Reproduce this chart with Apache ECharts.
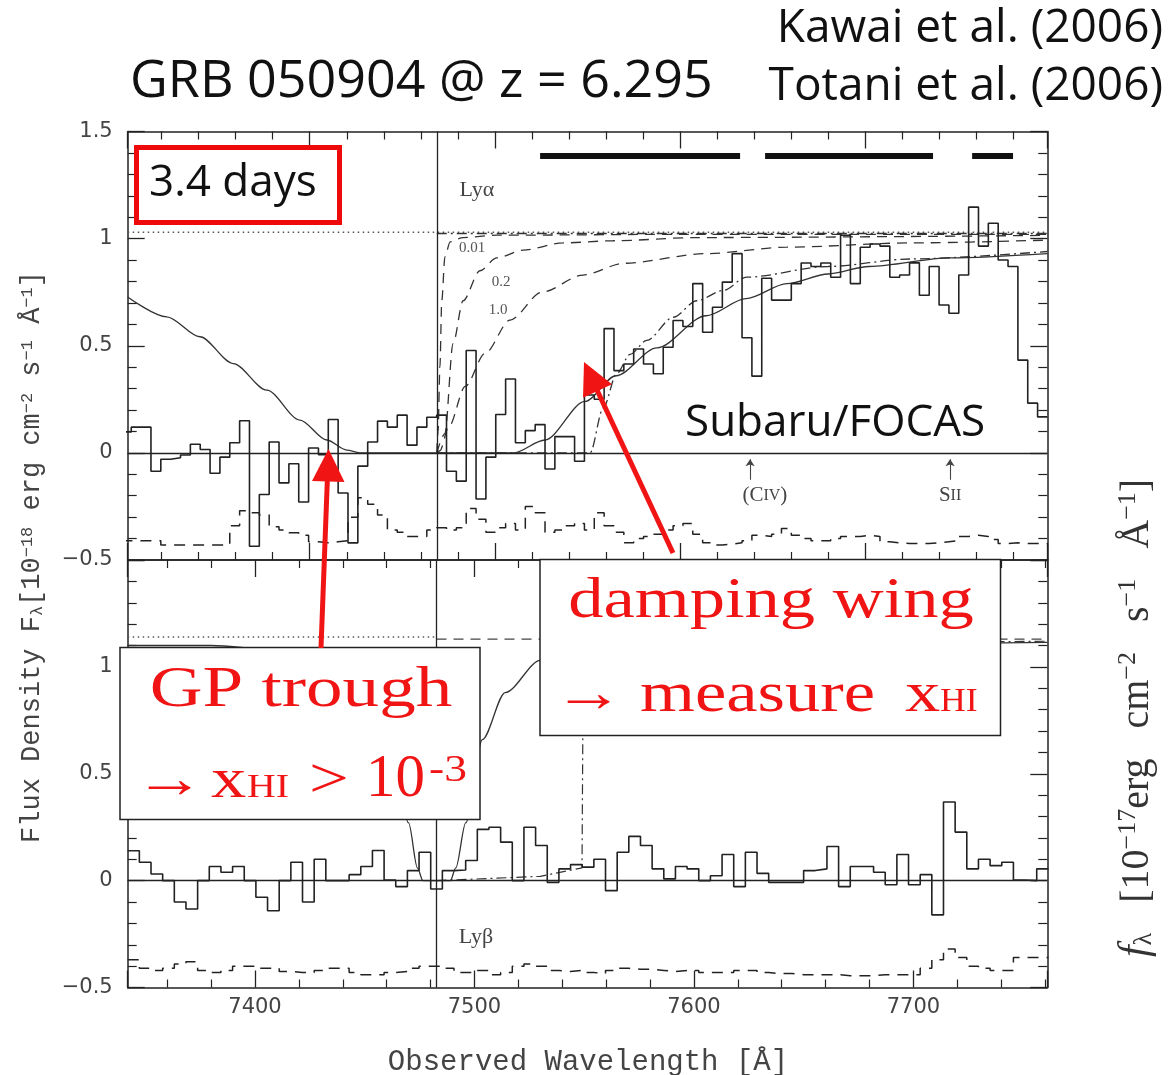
<!DOCTYPE html>
<html><head><meta charset="utf-8">
<script src="https://cdn.jsdelivr.net/npm/echarts@6/dist/echarts.min.js"></script>
<style>html,body{margin:0;padding:0;background:#fff}#c{width:1171px;height:1075px}</style>
</head><body><div id="c"></div>
<script>
// ---------------- DATA ----------------
const waveTickLabels = ['7400', '7500', '7600', '7700'];
const fluxTickLabels = ['−0.5', '0', '0.5', '1', '1.5'];
const lyaRange = [8701.7, 9198.3];   // upper panel: observed wavelength of Ly-alpha
const lybRange = [7342, 7761];       // lower panel: observed wavelength of Ly-beta
const lyaEdge = 8868.6;
const lybEdge = 7482.7;

// upper panel binned spectrum (bins of 5.32 A starting at topStart)
const topStart = 8698.3, topBin = 5.32;
const topFlux = [
  0.098, 0.12, 0.12, -0.086, -0.03, -0.023, -0.01, 0.04, 0.016, -0.095, -0.02,
  0.047, 0.15, -0.436, -0.194, 0.051, -0.14, -0.051, -0.229, 0.023, -0.008,
  0.156, -0.187, -0.42, -0.062, 0.051, 0.148, 0.12, 0.176, 0.036, 0.12,
  0.166, 0.176, -0.086, -0.132, 0.478, -0.215, -0.02, 0.179, 0.345, 0.047,
  0.104, 0.132, -0.075, 0.076, 0.076, -0.039, 0.27, 0.25, 0.58, 0.384,
  0.415, 0.485, 0.415, 0.369, 0.493, 0.618, 0.59, 0.79, 0.563, 0.68,
  0.797, 0.93, 0.537, 0.358, 0.815, 0.713, 0.713, 0.79, 0.886, 0.87,
  0.886, 0.82, 1.016, 0.79, 0.96, 0.975, 0.965, 0.82, 0.83, 0.887,
  0.736, 0.87, 0.69, 0.652, 0.83, 1.147, 0.965, 1.072, 0.9, 0.87,
  0.433, 0.232, 0.168
];
const topNoise = [
  -0.41, -0.41, -0.41, -0.41, -0.43, -0.43, -0.43, -0.43, -0.43, -0.43, -0.43,
  -0.34, -0.27, -0.28, -0.29, -0.345, -0.36, -0.373, -0.384, -0.415, -0.42,
  -0.415, -0.41, -0.30, -0.21, -0.24, -0.29, -0.36, -0.37, -0.39, -0.39,
  -0.36, -0.35, -0.36, -0.35, -0.26, -0.31, -0.37, -0.35, -0.33, -0.36,
  -0.25, -0.28, -0.37, -0.36, -0.34, -0.33, -0.36, -0.28, -0.34, -0.37,
  -0.42, -0.40, -0.39, -0.38, -0.36, -0.34, -0.33, -0.38, -0.42, -0.43,
  -0.426, -0.42, -0.41, -0.384, -0.39, -0.38, -0.353, -0.384, -0.40, -0.41,
  -0.41, -0.40, -0.39, -0.39, -0.384, -0.39, -0.415, -0.42, -0.423, -0.423,
  -0.423, -0.42, -0.415, -0.41, -0.39, -0.384, -0.39, -0.404, -0.423, -0.42,
  -0.423, -0.423, -0.423
];
// upper panel model curves [wavelength, flux]
const topModelSolid = [[8701.7,0.728],[8722.8,0.635],[8740.7,0.542],[8758.7,0.417],[8776.8,0.293],[8794.7,0.153],[8809.2,0.06],[8820,0.013],[8827,0],[8910,0],[8927,0.06],[8948.6,0.24],[8965.4,0.36],[8987.5,0.49],[9014,0.64],[9035.6,0.72],[9057.7,0.79],[9079.9,0.835],[9102,0.87],[9145.8,0.91],[9198.3,0.93]];
const topModel001 = [[8868.6,0],[8869.3,0.1],[8870.3,0.40],[8871.3,0.71],[8873,0.915],[8875.8,0.985],[8882.8,1.005],[8901,1.016],[9000,1.02],[9198.3,1.02]];
const topModel02 = [[8868.6,0],[8873,0.09],[8877.4,0.51],[8882.8,0.71],[8891.9,0.85],[8901,0.91],[8915.2,0.946],[8936.8,0.98],[8963.8,0.99],[9009,1.005],[9198.3,1.015]];
const topModel10 = [[8868.6,0],[8870.3,0.01],[8875,0.12],[8884,0.31],[8894.7,0.465],[8908.2,0.62],[8925.4,0.75],[8947.6,0.83],[8969.7,0.885],[9014,0.93],[9057.7,0.96],[9124.1,0.98],[9198.3,0.993]];
const topDashDotFlat = [[8868.6,1.024],[9198.3,1.024]];
const topDashDotRise = [[8868.6,0],[8951.4,0],[8958.5,0.21],[8965.8,0.37],[8973,0.46],[8982,0.525],[8996.3,0.633],[9009,0.71],[9023.3,0.758],[9035.9,0.82],[9079.9,0.87],[9124.1,0.905],[9198.3,0.94]];
const topContinuum = [[8701.7,1.03],[9198.3,1.03]];
const topBars = [[8924.4,9032.4],[9045.9,9136.6],[9157.7,9179.8]];
const topBarLevel = 1.385;
const lineMarks = [['(CIV)', 9037.8], ['SII', 9145.8]];

// lower panel binned spectrum (bins of 5.31 A starting at botStart)
const botStart = 7342, botBin = 5.31;
const botFlux = [
  0.14, 0.086, 0.031, 0, -0.10, -0.133, 0, 0.066, 0.039, 0.066,
  0, -0.078, -0.141, 0, 0.086, -0.10, 0.10, 0, 0, 0.028,
  0.066, 0.141, 0.003, -0.028, 0.047, 0.133, -0.039, 0.047, 0.05, 0.094,
  0.24, 0.25, 0.18, 0, 0.25, 0.164, -0.008, 0.055, 0.075, 0.063,
  0.10, -0.047, 0.133, 0.207, 0.164, 0.055, 0.008, 0.066, 0.055, 0,
  0.023, 0.122, -0.028, 0.133, 0.034, -0.008, -0.008, -0.008, 0.047, 0.055,
  0.16, -0.028, 0.066, 0.066, 0.039, -0.019, 0.122, -0.019, 0.028, -0.16,
  0.368, 0.227, 0.055, 0.10, 0.07, 0.086, 0.003, 0, 0.055
];
const botNoise = [
  -0.37, -0.41, -0.42, -0.41, -0.39, -0.38, -0.42, -0.43, -0.42, -0.40,
  -0.40, -0.41, -0.41, -0.425, -0.43, -0.43, -0.42, -0.41, -0.41, -0.43,
  -0.44, -0.44, -0.43, -0.425, -0.41, -0.40, -0.40, -0.41, -0.43, -0.43,
  -0.42, -0.44, -0.43, -0.40, -0.39, -0.40, -0.42, -0.425, -0.42, -0.43,
  -0.435, -0.42, -0.41, -0.415, -0.415, -0.42, -0.425, -0.42, -0.42, -0.43,
  -0.43, -0.43, -0.42, -0.42, -0.43, -0.435, -0.435, -0.44, -0.44, -0.44,
  -0.44, -0.445, -0.445, -0.445, -0.44, -0.44, -0.44, -0.44, -0.41, -0.37,
  -0.32, -0.36, -0.40, -0.41, -0.42, -0.42, -0.36, -0.36, -0.36
];
const botModelSolid = [[7342,1.10],[7380,1.10],[7410,1.08],[7425,1.06],[7436,1.03],[7451,0.88],[7462,0.66],[7470,0.27],[7474,0.06],[7476.5,0],[7489,0],[7491.5,0.06],[7496,0.27],[7503.6,0.66],[7514,0.88],[7530,1.03],[7550,1.08],[7600,1.10],[7761,1.115]];
const botContinuum = [[7342,1.14],[7482.7,1.14]];
const botModelDashed = [[7482.7,1.13],[7761,1.13]];
const botModelDashDot = [[7482.7,0],[7530,0.02],[7549,0.06],[7549.6,1.10],[7761,1.12]];

// ---------------- CHART ----------------
const INK = '#222';
function stepData(start, width, vals) {
  const d = vals.map((v, i) => [+(start + i * width).toFixed(3), v]);
  d.push([+(start + vals.length * width).toFixed(3), vals[vals.length - 1]]);
  return d;
}
function xAx(grid, pos, range, labels) {
  return {
    type: 'value', gridIndex: grid, position: pos, min: range[0], max: range[1], splitNumber: 5,
    axisLine: { show: true, onZero: false, lineStyle: { color: INK, width: 1.5 } },
    axisTick: { show: true, inside: true, length: 17, lineStyle: { color: INK, width: 1.3 } },
    minorTick: { show: true, splitNumber: 5, length: 8, lineStyle: { color: INK, width: 1.2 } },
    axisLabel: { show: labels, showMinLabel: false, showMaxLabel: false, margin: 10, color: '#444',
      fontFamily: 'DejaVu Sans', fontSize: 21,
      formatter: v => waveTickLabels.includes(String(v)) ? String(v) : '' },
    splitLine: { show: false }, minorSplitLine: { show: false }
  };
}
function yAx(grid, pos, labels, showMax) {
  return {
    type: 'value', gridIndex: grid, position: pos, min: -0.5, max: 1.5, interval: 0.5,
    axisLine: { show: true, onZero: false, lineStyle: { color: INK, width: 1.5 } },
    axisTick: { show: true, inside: true, length: 17, lineStyle: { color: INK, width: 1.3 } },
    minorTick: { show: true, splitNumber: 5, length: 9, lineStyle: { color: INK, width: 1.2 } },
    axisLabel: { show: labels, showMaxLabel: showMax, margin: 15, color: '#444',
      fontFamily: 'DejaVu Sans', fontSize: 21,
      formatter: v => fluxTickLabels[Math.round((v + 0.5) / 0.5)] },
    splitLine: { show: false }, minorSplitLine: { show: false }
  };
}
function ln(xi, yi, data, opt) {
  return Object.assign({
    type: 'line', xAxisIndex: xi, yAxisIndex: yi, data: data, showSymbol: false, symbol: 'none',
    silent: true, animation: false, z: 3,
    lineStyle: { color: INK, width: 1.3, type: 'solid' }
  }, opt || {});
}
const vMark = (xv) => ({
  silent: true, symbol: 'none', label: { show: false }, animation: false,
  lineStyle: { color: INK, width: 1.3, type: 'solid' },
  data: [{ xAxis: xv }, { yAxis: 0 }]
});
const DASH = [10, 7], NDASH = [11, 8], DOT = [1.5, 3.5], DASHDOT = [10, 4, 2, 4];

const series = [
  // upper panel
  ln(0, 0, stepData(topStart, topBin, topFlux), { step: 'end', z: 5, lineStyle: { color: INK, width: 1.6 }, markLine: vMark(lyaEdge) }),
  ln(0, 0, stepData(topStart, topBin, topNoise), { step: 'end', lineStyle: { color: INK, width: 1.5, type: NDASH } }),
  ln(0, 0, topModelSolid, { smooth: 0.3, smoothMonotone: 'x', lineStyle: { color: '#333', width: 1.3 } }),
  ln(0, 0, topContinuum, { lineStyle: { color: '#555', width: 1.6, type: DOT } }),
  ln(0, 0, topModel001, { smooth: 0.3, smoothMonotone: 'x', lineStyle: { color: '#333', width: 1.3, type: DASH } }),
  ln(0, 0, topModel02, { smooth: 0.3, smoothMonotone: 'x', lineStyle: { color: '#333', width: 1.3, type: DASH } }),
  ln(0, 0, topModel10, { smooth: 0.3, smoothMonotone: 'x', lineStyle: { color: '#333', width: 1.3, type: DASH } }),
  ln(0, 0, topDashDotFlat, { lineStyle: { color: '#333', width: 1.3, type: DASHDOT } }),
  ln(0, 0, topDashDotRise, { smooth: 0.3, smoothMonotone: 'x', lineStyle: { color: '#333', width: 1.3, type: DASHDOT } }),
  {
    type: 'lines', coordinateSystem: 'cartesian2d', xAxisIndex: 0, yAxisIndex: 0, silent: true, animation: false, z: 6,
    lineStyle: { color: '#111', width: 6, opacity: 1 },
    data: topBars.map(b => ({ coords: [[b[0], topBarLevel], [b[1], topBarLevel]] }))
  },
  {
    type: 'lines', coordinateSystem: 'cartesian2d', xAxisIndex: 0, yAxisIndex: 0, silent: true, animation: false, z: 6,
    symbol: ['none', 'arrow'], symbolSize: 7,
    lineStyle: { color: '#444', width: 1.1, opacity: 1 },
    data: lineMarks.map(m => ({ coords: [[m[1], -0.125], [m[1], -0.03]] }))
  },
  {
    type: 'scatter', xAxisIndex: 0, yAxisIndex: 0, symbolSize: 2, silent: true, animation: false, z: 6,
    itemStyle: { color: 'rgba(255,255,255,0)' },
    data: lineMarks.map(m => ({ value: [m[1] + (m[0] === '(CIV)' ? 8 : 0), -0.2], name: m[0] })),
    label: {
      show: true, position: 'inside', color: '#444', opacity: 1,
      formatter: p => p.name === '(CIV)' ? '{a|(C}{b|IV}{a|)}' : '{a|S}{b|II}',
      rich: { a: { fontFamily: 'Liberation Serif', fontSize: 21, color: '#444' }, b: { fontFamily: 'Liberation Serif', fontSize: 16, color: '#444' } }
    }
  },
  // lower panel
  ln(2, 2, stepData(botStart, botBin, botFlux), { step: 'end', z: 5, lineStyle: { color: INK, width: 1.6 }, markLine: vMark(lybEdge) }),
  ln(2, 2, stepData(botStart, botBin, botNoise), { step: 'end', lineStyle: { color: INK, width: 1.5, type: NDASH } }),
  ln(2, 2, botModelSolid, { smooth: 0.3, smoothMonotone: 'x', lineStyle: { color: '#333', width: 1.3 } }),
  ln(2, 2, botContinuum, { lineStyle: { color: '#555', width: 1.6, type: DOT } }),
  ln(2, 2, botModelDashed, { lineStyle: { color: '#444', width: 1.3, type: DASH } }),
  ln(2, 2, botModelDashDot, { lineStyle: { color: '#333', width: 1.2, type: DASHDOT } })
];

function txt(x, y, text, size, family, color, align, extra) {
  return Object.assign({
    type: 'text', x: x, y: y, z: 110, silent: true,
    style: { text: text, fontSize: size, fontFamily: family, fill: color,
      textAlign: align || 'left', align: align || 'left', textVerticalAlign: 'middle', verticalAlign: 'middle' }
  }, extra || {});
}
const RED = '#f01414';
const SERIF = 'Liberation Serif';
const SX = 1.26;
const graphic = [
  // titles
  txt(130, 82, 'GRB 050904 @ z = 6.295', 52, 'Open Sans', '#111'),
  txt(1163, 29, 'Kawai et al. (2006)', 46, 'Open Sans', '#111', 'right'),
  txt(1163, 87, 'Totani et al. (2006)', 46, 'Open Sans', '#111', 'right'),
  // 3.4 days box
  { type: 'rect', z: 105, silent: true, shape: { x: 136.5, y: 147.5, width: 203, height: 75 }, style: { fill: '#fff', stroke: '#ee0a0a', lineWidth: 5 } },
  txt(149, 183, '3.4 days', 44, 'Open Sans', '#111'),
  txt(685, 423, 'Subaru/FOCAS', 44, 'Open Sans', '#111'),
  // panel labels
  txt(477, 190, 'Lyα', 22, SERIF, '#444', 'center'),
  txt(472, 248, '0.01', 15, SERIF, '#555', 'center'),
  txt(501, 282, '0.2', 15, SERIF, '#555', 'center'),
  txt(498, 310, '1.0', 15, SERIF, '#555', 'center'),
  txt(476, 937, 'Lyβ', 22, SERIF, '#444', 'center'),
  // axis names
  txt(588, 1062, 'Observed Wavelength [Å]', 29, 'Liberation Mono', '#444', 'center'),
  {
    type: 'text', x: 32, y: 557, rotation: Math.PI / 2, z: 110, silent: true,
    style: {
      text: '{m|Flux Density F}{s|λ}{m|[10}{p|−18}{m| erg cm}{p|−2}{m| s}{p|−1}{m| Å}{p|−1}{m|]}',
      textAlign: 'center', align: 'center', textVerticalAlign: 'middle', verticalAlign: 'middle',
      rich: {
        m: { fontFamily: 'Liberation Mono', fontSize: 27, fill: '#444', color: '#444', verticalAlign: 'bottom' },
        s: { fontFamily: 'Liberation Mono', fontSize: 17, fill: '#444', color: '#444', verticalAlign: 'bottom' },
        p: { fontFamily: 'Liberation Mono', fontSize: 17, fill: '#444', color: '#444', verticalAlign: 'top' }
      }
    }
  },
  {
    type: 'text', x: 1136, y: 718, rotation: Math.PI / 2, z: 110, silent: true,
    style: {
      text: '{i|f}{s|λ}{m|   [10}{p|−17}{m|erg   cm}{p|−2}{m|   s}{p|−1}{m|   Å}{p|−1}{m|]}',
      textAlign: 'center', align: 'center', textVerticalAlign: 'middle', verticalAlign: 'middle',
      rich: {
        i: { fontFamily: SERIF, fontStyle: 'italic', fontSize: 42, fill: '#333', color: '#333', verticalAlign: 'bottom' },
        m: { fontFamily: SERIF, fontSize: 40, fill: '#333', color: '#333', verticalAlign: 'bottom' },
        s: { fontFamily: SERIF, fontSize: 26, fill: '#333', color: '#333', verticalAlign: 'bottom' },
        p: { fontFamily: SERIF, fontSize: 26, fill: '#333', color: '#333', verticalAlign: 'top' }
      }
    }
  },
  // GP trough annotation
  { type: 'rect', z: 105, silent: true, shape: { x: 120, y: 647.5, width: 360, height: 172 }, style: { fill: '#fff', stroke: '#222', lineWidth: 1.5 } },
  txt(301, 691, 'GP trough', 58, SERIF, RED, 'center', { scaleX: SX }),
  txt(134, 782, '→', 56, SERIF, RED, 'left', { scaleX: SX }),
  txt(211, 782, 'x', 56, SERIF, RED, 'left', { scaleX: SX }),
  txt(247, 788, 'HI', 34, SERIF, RED, 'left', { scaleX: 1.17 }),
  txt(309, 782, '>', 56, SERIF, RED, 'left', { scaleX: SX }),
  txt(366, 780, '10', 62, SERIF, RED, 'left', { scaleX: 0.95 }),
  txt(429, 771, '-3', 38, SERIF, RED, 'left', { scaleX: 1.2 }),
  // damping wing annotation
  { type: 'rect', z: 105, silent: true, shape: { x: 540, y: 559.5, width: 460.5, height: 176 }, style: { fill: '#fff', stroke: '#222', lineWidth: 1.5 } },
  txt(771, 602, 'damping wing', 56, SERIF, RED, 'center', { scaleX: SX }),
  txt(553, 696, '→', 56, SERIF, RED, 'left', { scaleX: SX }),
  txt(640, 696, 'measure', 56, SERIF, RED, 'left', { scaleX: SX }),
  txt(905, 696, 'x', 56, SERIF, RED, 'left', { scaleX: SX }),
  txt(940, 702, 'HI', 34, SERIF, RED, 'left', { scaleX: 1.05 }),
  // red arrows
  { type: 'line', z: 108, silent: true, shape: { x1: 321, y1: 648, x2: 327.5, y2: 476 }, style: { stroke: RED, lineWidth: 5 } },
  { type: 'polygon', z: 108, silent: true, shape: { points: [[328.5, 449], [312, 481], [344.5, 482]] }, style: { fill: RED } },
  { type: 'line', z: 108, silent: true, shape: { x1: 673, y1: 553, x2: 597, y2: 390 }, style: { stroke: RED, lineWidth: 5 } },
  { type: 'polygon', z: 108, silent: true, shape: { points: [[584, 362], [612, 384.2], [583, 397.8]] }, style: { fill: RED } }
];

const chart = echarts.init(document.getElementById('c'), null, { renderer: 'canvas' });
chart.setOption({
  animation: false,
  backgroundColor: '#fff',
  grid: [
    { left: 127.7, top: 131.5, width: 919.6, height: 428.5 },
    { left: 127.7, top: 560, width: 919.6, height: 427.5 }
  ],
  xAxis: [xAx(0, 'bottom', lyaRange, false), xAx(0, 'top', lyaRange, false), xAx(1, 'bottom', lybRange, true), xAx(1, 'top', lybRange, false)],
  yAxis: [yAx(0, 'left', true, true), yAx(0, 'right', false, true), yAx(1, 'left', true, false), yAx(1, 'right', false, false)],
  series: series,
  graphic: graphic
});
</script></body></html>
